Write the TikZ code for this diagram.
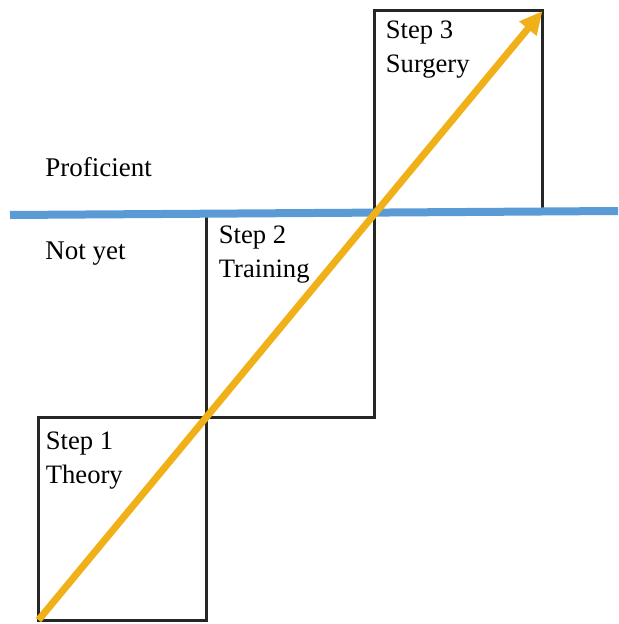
\documentclass[tikz,border=0pt]{standalone}
\usepackage{fontspec}
\setmainfont{Liberation Serif}
\usetikzlibrary{arrows.meta,positioning}
\usepackage{xcolor}
\definecolor{boxgray}{HTML}{262626}
\definecolor{lineblue}{HTML}{5B9BD5}
\definecolor{arrowgold}{HTML}{F0B018}

\begin{document}
\begin{tikzpicture}[
            x=0.5pt, y=-0.5pt,
            stepbox/.style={rectangle, draw=boxgray, line width=1.5pt, minimum width=84pt, minimum height=101.5pt, inner sep=0pt, outer sep=0pt},
            steptext/.style={anchor=base west, align=left, inner sep=0pt, font=\fontsize{13.3}{17}\selectfont},
            level/.style={anchor=base west, inner sep=0pt, font=\fontsize{13.5}{17}\selectfont},
            divider/.style={draw=lineblue, line width=4pt},
            progress/.style={draw=arrowgold, line width=3.5pt, -{Triangle[length=11.5pt, width=10.5pt]}}
        ]
            \useasboundingbox (0,0) rectangle (618,624);

            % --- STEPS ---
            \node[stepbox, anchor=south west] (theory) at (38.5,620) {};
            \node[stepbox, above right=0pt and 0pt of theory] (training) {};
            \node[stepbox, above right=0pt and 0pt of training] (surgery) {};

            % base anchor sits on the last line
            \node[steptext] (theoryText) at ([xshift=3.5pt, yshift=-33pt]theory.north west) {Step 1\\Theory};
            \node[steptext] (trainingText) at ([xshift=6pt, yshift=-32pt]training.north west) {Step 2\\Training};
            \node[steptext] (surgeryText) at ([xshift=5.5pt, yshift=-31pt]surgery.north west) {Step 3\\Surgery};

            % --- LEVELS ---
            \coordinate (lineLeft) at (10,215);
            \coordinate (lineRight) at (618,211);
            \draw[divider] (lineLeft) -- (lineRight);

            \node[level] (proficient) at (45,177) {Proficient};
            \node[level] (notYet) at (45,260) {Not yet};

            % --- PROGRESSION ---
            \draw[progress] (theory.south west) -- (surgery.north east);

        \end{tikzpicture}
\end{document}
